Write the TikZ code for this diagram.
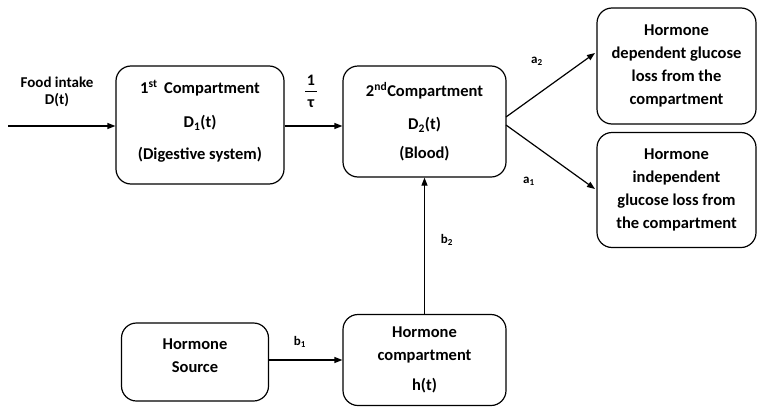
\documentclass[tikz,border=0pt]{standalone}
\usepackage{fontspec}
\setmainfont{Carlito}
\usetikzlibrary{arrows.meta}
\tikzset{
  box/.style={draw=black, line width=1.2pt, rounded corners=15pt, align=center,
    font=\fontsize{16.5}{23}\selectfont\bfseries, inner sep=0pt},
  lab/.style={font=\fontsize{15}{17}\selectfont\bfseries, align=center, inner sep=0pt},
  sml/.style={font=\fontsize{13}{15}\selectfont\bfseries, inner sep=0pt},
  arr/.style={line width=1.2pt, -{Triangle[length=8pt,width=6pt]}}
}
\begin{document}
\begin{tikzpicture}[x=1pt,y=-1pt]
\useasboundingbox (0,0) rectangle (757,407);
\node[box, minimum width=168pt, minimum height=118pt] (c1) at (200,125)
  {\raisebox{3pt}[\height][\depth]{\begin{tabular}{@{}c@{}}1\textsuperscript{st}\, Compartment\\[11pt]D\textsubscript{1}(t)\\[9pt](Digestive system)\end{tabular}}};
\node[box, minimum width=163pt, minimum height=111pt] (c2) at (424.5,121.5)
  {2\textsuperscript{nd}Compartment\\[10pt]D\textsubscript{2}(t)\\[6pt](Blood)};
\node[box, minimum width=159pt, minimum height=116pt] (l1) at (676.5,66)
  {Hormone\\dependent glucose\\loss from the\\compartment};
\node[box, minimum width=159pt, minimum height=115pt] (l2) at (676.5,190)
  {Hormone\\independent\\glucose loss from\\the compartment};
\node[box, minimum width=147pt, minimum height=78pt] (hs) at (195,362)
  {\raisebox{6pt}[\height][\depth]{\begin{tabular}{@{}c@{}}Hormone\\Source\end{tabular}}};
\node[box, minimum width=163pt, minimum height=91pt] (hc) at (424.5,360)
  {Hormone\\compartment\\[7pt]h(t)};
\coordinate (food) at (8,126);
\draw[arr] (food) -- (food -| c1.west);
\draw[arr] (c1.east |- 0,126) -- (c2.west |- 0,126);
\draw[arr] (506,117) -- (595,53);
\draw[arr] (506,125) -- (595,189);
\draw[arr] (hc.north) -- (c2.south);
\draw[arr] (hs.east |- 0,360) -- (hc.west |- 0,360);
\node[lab] (ft) at (57,92) {Food intake\\D(t)};
\node[inner sep=0pt, font=\fontsize{16}{18}\selectfont\bfseries] (tau) at (311,91)
  {\vbox{\hbox to 12pt{\hss 1\hss}\kern6pt\hrule width 12pt height 1pt\kern7pt\hbox to 12pt{\hss τ\hss}}};
\node[sml] (a2) at (537,61) {a\textsubscript{2}};
\node[sml] (a1) at (529,181) {a\textsubscript{1}};
\node[sml] (b2) at (447,240) {b\textsubscript{2}};
\node[sml] (b1) at (300,342) {b\textsubscript{1}};
\end{tikzpicture}
\end{document}
